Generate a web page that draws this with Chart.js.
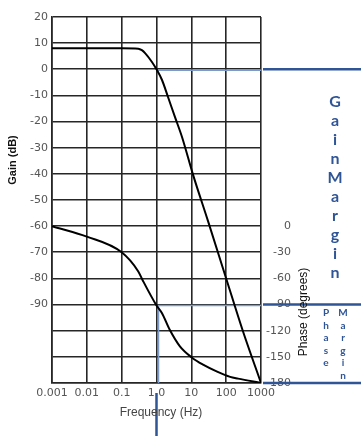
<!DOCTYPE html>
<html>
<head>
<meta charset="utf-8">
<script src="https://cdn.jsdelivr.net/npm/chart.js@4/dist/chart.umd.min.js"></script>
<style>
  html, body { margin: 0; padding: 0; background: #fff; }
  #wrap { width: 361px; height: 436px; }
</style>
</head>
<body>
<div id="wrap"><canvas id="myChart" width="361" height="436"></canvas></div>
<script>
// frequency ticks (Hz) and their labels
const freqTicks = [0.001, 0.01, 0.1, 1, 10, 100, 1000];
const freqLabels = ["0.001", "0.01", "0.1", "1.0", "10", "100", "1000"];

// gain curve (dB)
const gainFreq = [0.001, 0.01, 0.1, 0.3, 0.38, 0.47, 0.74, 1, 1.44, 2.14, 3.4, 5.4, 11, 30, 100, 300, 1000];
const gainDb   = [8, 8, 8, 7.9, 7.3, 6.2, 2.8, 0, -4.1, -10.6, -18.3, -25.9, -40, -58, -80, -100, -120];

// phase curve (degrees)
const phaseFreq = [0.001, 0.01, 0.1, 0.3, 0.4, 1, 1.44, 2.4, 4.7, 10.5, 21.7, 55, 130, 220, 1000];
const phaseDeg  = [0, -12, -30, -52, -62, -91, -100, -119, -138, -151, -159, -167, -173, -175, -180];

const gridColor = "#262626";
const marginBlue = "#2f5597";

function line(ctx, x0, y0, x1, y1) {
    ctx.beginPath();
    ctx.moveTo(x0, y0);
    ctx.lineTo(x1, y1);
    ctx.stroke();
}

const overlay = {
    id: "overlay",
    beforeDatasetsDraw(chart) {
        const { ctx, chartArea: a, scales } = chart;
        const x1 = scales.x.getPixelForValue(1);
        const yG = scales.y.getPixelForValue(0);
        const yP = scales.y2.getPixelForValue(-90);
        ctx.save();
        ctx.strokeStyle = "#7d9bcb";
        ctx.lineWidth = 1.5;
        line(ctx, x1 + 1.5, yG + 1, a.right, yG + 1);
        line(ctx, x1 + 1.5, yP + 1, a.right, yP + 1);
        line(ctx, x1 + 2, yP + 1, x1 + 2, a.bottom);
        ctx.restore();
    },
    afterDraw(chart) {
        const { ctx, chartArea: a, scales } = chart;
        const W = chart.width, H = chart.height;
        const x1 = scales.x.getPixelForValue(1);
        const yG = scales.y.getPixelForValue(0);
        const yP = scales.y2.getPixelForValue(-90);
        ctx.save();
        ctx.strokeStyle = marginBlue;
        ctx.lineWidth = 2.5;
        line(ctx, a.right + 2, yG, W, yG);
        line(ctx, a.right + 2, yP, W, yP);
        line(ctx, a.right + 2, a.bottom, W, a.bottom);
        line(ctx, x1, a.bottom + 10, x1, H);

        ctx.fillStyle = marginBlue;
        ctx.textAlign = "center";
        ctx.textBaseline = "middle";
        ctx.font = "bold 16px Lato";
        "GainMargin".split("").forEach((c, i) => ctx.fillText(c, 335, 102 + i * 19));
        ctx.font = "bold 10px Lato";
        "Phase".split("").forEach((c, i) => ctx.fillText(c, 326, 313 + i * 12.5));
        "Margin".split("").forEach((c, i) => ctx.fillText(c, 343, 313 + i * 12.5));

        // axis titles
        ctx.fillStyle = "#111";
        ctx.save();
        ctx.translate(13, 160);
        ctx.rotate(-Math.PI / 2);
        ctx.font = "bold 11px 'Liberation Sans'";
        ctx.fillText("Gain (dB)", 0, 0);
        ctx.restore();
        ctx.save();
        ctx.translate(304, 312);
        ctx.rotate(-Math.PI / 2);
        ctx.font = "12px 'Liberation Sans'";
        ctx.fillText("Phase (degrees)", 0, 0);
        ctx.restore();
        ctx.fillStyle = "#444";
        ctx.font = "12px 'Liberation Sans'";
        ctx.fillText("Frequency (Hz)", 161, 413);
        ctx.restore();
    }
};

new Chart("myChart", {
    type: "line",
    data: {
        datasets: [{
            data: gainFreq.map((f, i) => ({ x: f, y: gainDb[i] })),
            yAxisID: "y",
            borderColor: "#000",
            borderWidth: 2,
            pointRadius: 0,
            cubicInterpolationMode: "monotone"
        }, {
            data: phaseFreq.map((f, i) => ({ x: f, y: phaseDeg[i] })),
            yAxisID: "y2",
            borderColor: "#000",
            borderWidth: 2,
            pointRadius: 0,
            cubicInterpolationMode: "monotone"
        }]
    },
    options: {
        responsive: false,
        animation: false,
        layout: { padding: { top: 17, right: 70 } },
        plugins: { legend: { display: false }, tooltip: { enabled: false } },
        scales: {
            x: {
                type: "logarithmic",
                min: 0.001,
                max: 1000,
                afterBuildTicks: s => { s.ticks = freqTicks.map(v => ({ value: v })); },
                afterFit: s => { s.height = 53; },
                grid: { color: gridColor, lineWidth: 1.6, drawTicks: false },
                border: { color: gridColor, width: 1.6 },
                ticks: {
                    autoSkip: false,
                    maxRotation: 0,
                    padding: 4,
                    color: "#555",
                    font: { family: "DejaVu Sans", size: 11 },
                    callback: v => {
                        const i = freqTicks.findIndex(t => Math.abs(t - v) / t < 1e-6);
                        return i >= 0 ? freqLabels[i] : "";
                    }
                }
            },
            y: {
                position: "left",
                min: -120,
                max: 20,
                afterFit: s => { s.width = 52; },
                grid: { color: gridColor, lineWidth: 1.6, drawTicks: false },
                border: { color: gridColor, width: 1.6 },
                ticks: {
                    stepSize: 10,
                    autoSkip: false,
                    padding: 4,
                    color: "#555",
                    font: { family: "DejaVu Sans", size: 11 },
                    callback: v => v >= -90 ? String(v) : ""
                }
            },
            y2: {
                position: "right",
                min: -180,
                max: 240,
                afterFit: s => { s.width = 30; },
                grid: { display: false, drawTicks: false },
                border: { display: false },
                ticks: {
                    stepSize: 30,
                    autoSkip: false,
                    padding: 0,
                    crossAlign: "far",
                    color: "#555",
                    font: { family: "DejaVu Sans", size: 11 },
                    callback: v => v <= 0 ? String(v) : ""
                }
            }
        }
    },
    plugins: [overlay]
});
</script>
</body>
</html>
